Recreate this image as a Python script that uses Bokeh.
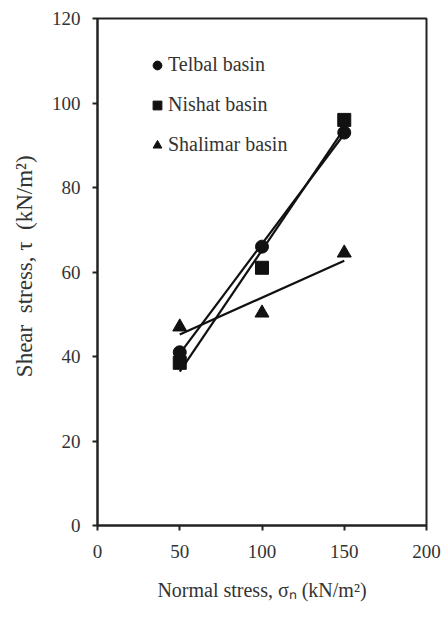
import numpy as np
from bokeh.plotting import figure
from bokeh.models import Legend, LegendItem, Range1d, FixedTicker
from bokeh.embed import file_html
from bokeh.resources import INLINE

# ---- data ----
normal_stress = [50, 100, 150]
telbal = [41, 66, 93]
nishat = [38.5, 61, 96]
shalimar = [47, 50.3, 64.5]
series_names = ["Telbal basin", "Nishat basin", "Shalimar basin"]
x_ticks = [0, 50, 100, 150, 200]
y_ticks = [0, 20, 40, 60, 80, 100, 120]

FONT = "Liberation Serif"
TXT = "#333333"

p = figure(width=446, height=624, output_backend="svg", toolbar_location=None,
           x_range=Range1d(0, 200), y_range=Range1d(0, 120),
           min_border_left=97, min_border_right=20, min_border_top=18, min_border_bottom=99)
p.grid.visible = False
p.outline_line_color = "#222222"
p.outline_line_width = 2
p.background_fill_color = "white"
p.border_fill_color = "white"

for ax, ticks in ((p.xaxis, x_ticks), (p.yaxis, y_ticks)):
    ax.ticker = FixedTicker(ticks=ticks)
    ax.axis_line_color = "#222222"
    ax.axis_line_width = 2
    ax.major_tick_line_color = "#222222"
    ax.major_tick_line_width = 2
    ax.major_tick_out = 5
    ax.major_tick_in = 0
    ax.minor_tick_line_color = None
    ax.major_label_text_font = FONT
    ax.major_label_text_font_size = "19px"
    ax.major_label_text_color = TXT
    ax.axis_label_text_font = FONT
    ax.axis_label_text_font_size = "20px"
    ax.axis_label_text_font_style = "normal"
    ax.axis_label_text_color = TXT

p.xaxis.major_label_standoff = 14
p.yaxis.major_label_standoff = 12
p.xaxis.axis_label = "Normal stress, σₙ (kN/m²)"
p.xaxis.axis_label_standoff = 18
# leading no-break spaces shift the visible text slightly upward, as in the original
p.yaxis.axis_label = "\u00a0" * 2 + "Shear\u00a0\u00a0stress,\u00a0τ\u00a0\u00a0(kN/m²)"
p.yaxis.axis_label_text_font_size = "23px"
p.yaxis.axis_label_standoff = 12

xs = np.array(normal_stress, dtype=float)
markers = ["circle", "square", "triangle"]
sizes = [13, 13, 14]
renderers = []
for vals, mk, sz in zip([telbal, nishat, shalimar], markers, sizes):
    k, b = np.polyfit(xs, np.array(vals, dtype=float), 1)
    xl = np.array([xs.min(), xs.max()])
    p.line(xl, k * xl + b, line_color="#111111", line_width=2.2)
    r = p.scatter(normal_stress, vals, marker=mk, size=sz,
                  fill_color="#111111", line_color="#111111")
    renderers.append(r)

legend = Legend(items=[LegendItem(label=n, renderers=[r]) for n, r in zip(series_names, renderers)],
                location=(49, 369))
legend.background_fill_alpha = 0
legend.border_line_color = None
legend.padding = 0
legend.margin = 0
legend.spacing = 17
legend.glyph_width = 22
legend.glyph_height = 22
legend.label_height = 22
legend.label_standoff = 0
legend.label_text_font = FONT
legend.label_text_font_size = "20px"
legend.label_text_color = TXT
p.add_layout(legend, "center")

open("out.html", "w").write(file_html(p, INLINE))
